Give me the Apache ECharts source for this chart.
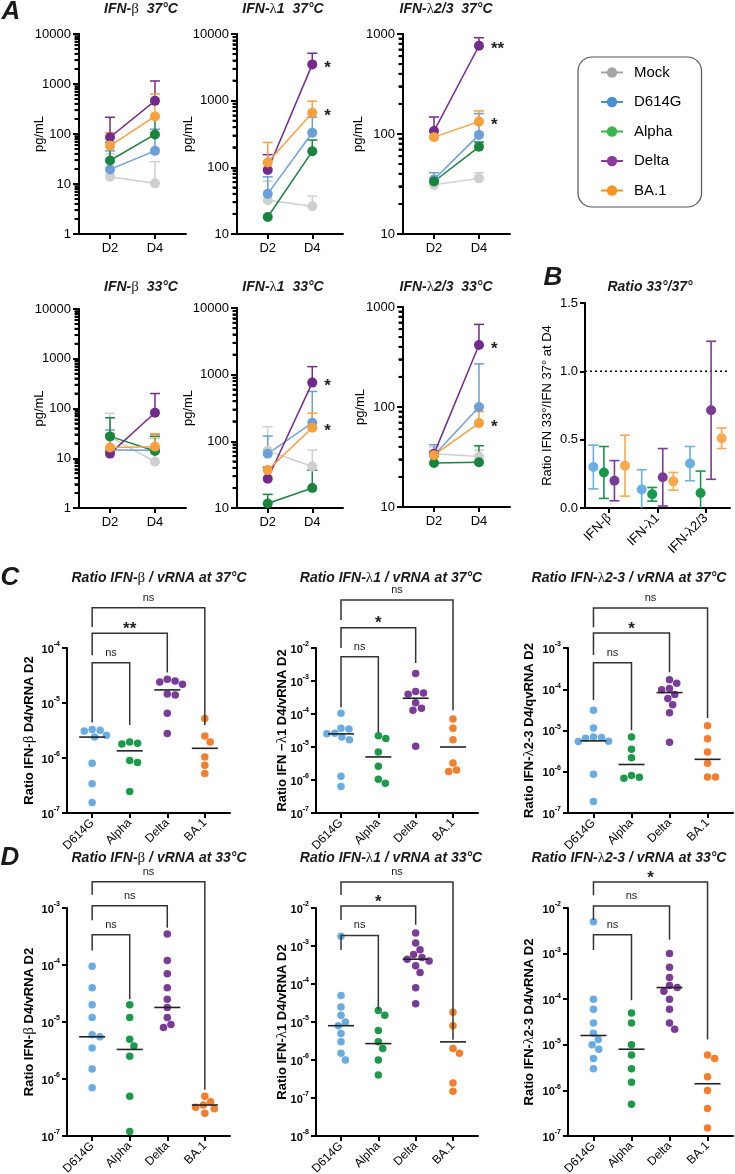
<!DOCTYPE html>
<html>
<head>
<meta charset="utf-8">
<title>IFN / vRNA figure</title>
<script src="https://cdn.jsdelivr.net/npm/echarts@6/dist/echarts.min.js"></script>
<style>html,body{margin:0;padding:0;background:#fff}#chart{width:735px;height:1174px}</style>
</head>
<body>
<div id="chart"></div>
<script>
var SANS = 'Liberation Sans, Arial, Helvetica, sans-serif';
var SERIF = 'Liberation Serif, DejaVu Serif, serif';

var variants = ['Mock', 'D614G', 'Alpha', 'Delta', 'BA.1'];
var days = ['D2', 'D4'];
var groups = ['D614G', 'Alpha', 'Delta', 'BA.1'];
var ratioCats = ['IFN-β', 'IFN-λ1', 'IFN-λ2/3'];

// Panel A: mean pg/mL [D2, D4] and top of error bar, order Mock, D614G, Alpha, Delta, BA.1
var beta37Mean = [[14, 10.3], [19.6, 46], [29.5, 98], [86, 460], [58, 225]];
var beta37Upper = [[40, 28], [46, 125], [68, 225], [216, 1150], [106, 630]];
var l1_37Mean = [[32, 26], [40, 330], [18, 174], [91, 3500], [118, 660]];
var l1_37Upper = [[62, 37], [72, 565], [18, 257], [155, 5150], [236, 980]];
var l23_37Mean = [[31, 36], [35, 98], [33.5, 74.5], [107, 763], [93, 133]];
var l23_37Upper = [[35, 41], [41, 160], [33.5, 83], [148, 918], [93, 170]];
var beta33Mean = [[27, 8.5], [14.7, 14.5], [27.5, 14], [12.4, 82], [16.4, 17]];
var beta33Upper = [[80, 25], [37, 30], [65, 27.5], [30, 200], [30, 31]];
var l1_33Mean = [[72, 42], [65, 190], [11.7, 20], [27.5, 760], [37, 160]];
var l1_33Upper = [[165, 74], [120, 560], [16, 37], [41, 1320], [41, 265]];
var l23_33Mean = [[34, 32], [33, 100], [27.5, 28], [34, 417], [33, 69]];
var l23_33Upper = [[40, 37], [42, 270], [27.5, 41], [36, 670], [36, 90]];
// significance at D4, order Mock..BA.1
var l1_37Sig = ['', '', '', '*', '*'];
var l23_37Sig = ['', '', '', '**', '*'];
var l1_33Sig = ['', '', '', '*', '*'];
var l23_33Sig = ['', '', '', '*', '*'];

// Panel B: ratio 33/37 at D4, order D614G, Alpha, Delta, BA.1; per ratioCats
var ratioMean = [[0.30, 0.135, 0.325], [0.26, 0.10, 0.11], [0.20, 0.225, 0.715], [0.31, 0.195, 0.51]];
var ratioSD = [[0.16, 0.145, 0.125], [0.19, 0.05, 0.16], [0.147, 0.21, 0.505], [0.223, 0.065, 0.075]];

// Panel C (37°C) and D (33°C): ratio IFN D4 / vRNA D2, order D614G, Alpha, Delta, BA.1
var c37Beta = [
  [3.2e-6, 3.3e-6, 3.1e-6, 2.4e-6, 2.6e-6, 8e-7, 3.4e-7, 1.55e-7],
  [1.95e-6, 1.8e-6, 1.85e-6, 9e-7, 8.3e-7, 2.45e-7],
  [2.7e-5, 2.5e-5, 2.4e-5, 2.2e-5, 1.45e-5, 1.4e-5, 6.5e-6, 2.8e-6],
  [5.2e-6, 2.5e-6, 1.95e-6, 1.04e-6, 7.4e-7, 5.2e-7]
];
var c37BetaMed = [2.4e-6, 1.35e-6, 1.73e-5, 1.5e-6];
var c37L1 = [
  [1.05e-4, 3.7e-5, 3.5e-5, 2.6e-5, 2.5e-5, 2.0e-5, 1.66e-5, 1.3e-6, 6.3e-7],
  [2.2e-5, 1.8e-5, 7e-6, 2.6e-6, 1.05e-6, 8e-7],
  [1.7e-3, 4.8e-4, 4.3e-4, 4.0e-4, 2.2e-4, 1.5e-4, 1.3e-4, 1.05e-5],
  [7e-5, 3.7e-5, 1.66e-5, 3.3e-6, 2e-6, 1.8e-6]
];
var c37L1Med = [2.5e-5, 5e-6, 3e-4, 1e-5];
var c37L23 = [
  [3.1e-5, 1.15e-5, 7e-6, 6.8e-6, 6.5e-6, 5.5e-6, 5.4e-6, 8.7e-7, 1.9e-7],
  [7e-6, 3.5e-6, 2.2e-6, 8.1e-7, 7.4e-7, 7e-7],
  [1.7e-4, 1.4e-4, 1.05e-4, 9.7e-5, 7.5e-5, 6e-5, 4.2e-5, 2.7e-5, 5.2e-6],
  [1.3e-5, 6.3e-6, 3e-6, 1.6e-6, 7.5e-7, 7.5e-7]
];
var c37L23Med = [5.6e-6, 1.5e-6, 8.3e-5, 2e-6];
var d33Beta = [
  [9.5e-5, 4e-5, 2e-5, 1.2e-5, 6e-6, 5.5e-6, 3.5e-6, 1.5e-6, 7e-7],
  [2e-5, 1.2e-5, 5e-6, 3.8e-6, 2.5e-6, 5e-7, 1.2e-7],
  [3.5e-4, 1.2e-4, 7e-5, 4e-5, 2.5e-5, 1.8e-5, 1.2e-5, 9e-6, 8e-6],
  [5e-7, 4e-7, 3.5e-7, 3.2e-7, 3e-7, 2.5e-7]
];
var d33BetaMed = [5.5e-6, 3.3e-6, 1.8e-5, 3.5e-7];
var d33L1 = [
  [1.8e-3, 5e-5, 2.5e-5, 1.5e-5, 1e-5, 8e-6, 5e-6, 3e-6, 1.5e-6, 1e-6],
  [2e-5, 1.5e-5, 6e-6, 3e-6, 2e-6, 1e-6, 4e-7],
  [2.2e-3, 1.2e-3, 8e-4, 6e-4, 5e-4, 4.5e-4, 4e-4, 3e-4, 2e-4, 8e-5, 3e-5],
  [1.8e-5, 8e-6, 2e-6, 1.5e-6, 2.5e-7, 1.5e-7]
];
var d33L1Med = [8e-6, 2.7e-6, 4.5e-4, 3e-6];
var d33L23 = [
  [5e-3, 1e-4, 6e-5, 3e-5, 1.8e-5, 1.3e-5, 1e-5, 8e-6, 5e-6, 3e-6],
  [5e-5, 3e-5, 1e-5, 6e-6, 3e-6, 1.5e-6, 5e-7],
  [1e-3, 5e-4, 3e-4, 2e-4, 1.8e-4, 1.5e-4, 1e-4, 6e-5, 3e-5, 2.2e-5],
  [6e-6, 5e-6, 2e-6, 1e-6, 4e-7, 1.5e-7]
];
var d33L23Med = [1.6e-5, 8e-6, 1.8e-4, 1.4e-6];

// comparison brackets: [from, to, bar level, left leg end, right leg end]
var c37BetaBr = [[0, 3, 5.4e-4, 2.4e-4, 4e-6], [0, 2, 1.86e-4, 7.4e-5, 3.6e-5], [0, 1, 5.4e-5, 4.4e-6, 4e-6]];
var c37BetaBrLab = ['ns', '**', 'ns'];
var c37L1Br = [[0, 3, 0.285, 0.071, 1.3e-4], [0, 2, 0.041, 1e-2, 3.5e-3], [0, 1, 5.4e-3, 1.6e-4, 2.8e-5]];
var c37L1BrLab = ['ns', '*', 'ns'];
var c37L23Br = [[0, 3, 9.3e-3, 3.2e-3, 2e-5], [0, 2, 2.3e-3, 6.8e-4, 2.6e-4], [0, 1, 4.4e-4, 5.5e-5, 1.02e-5]];
var c37L23BrLab = ['ns', '*', 'ns'];
var d33BetaBr = [[0, 3, 2.9e-3, 1.7e-3, 6.5e-7], [0, 2, 1.1e-3, 6.1e-4, 4.5e-4], [0, 1, 3.4e-4, 1.8e-4, 2.5e-5]];
var d33BetaBrLab = ['ns', 'ns', 'ns'];
var d33L1Br = [[0, 3, 0.048, 0.022, 3.4e-6], [0, 2, 0.0113, 4.8e-3, 3.6e-3], [0, 1, 1.9e-3, 7.8e-4, 2.1e-5]];
var d33L1BrLab = ['ns', '*', 'ns'];
var d33L23Br = [[0, 3, 0.037, 0.019, 1.3e-5], [0, 2, 0.011, 5.5e-3, 2e-3], [0, 1, 2.6e-3, 1.2e-3, 9.5e-5]];
var d33L23BrLab = ['*', 'ns', 'ns'];

var colA = ['#cfcfcf', '#6b9fd9', '#18843d', '#74298c', '#f9a03e'];
var colLegend = ['#a5a5a5', '#4a8fd2', '#3cb54a', '#8a3b9c', '#f7941e'];
var colB = ['#6aaee6', '#19974a', '#7a3b97', '#f9a94d'];
var colC = ['#69ace3', '#1c9a4a', '#7b3b98', '#f47e2b'];

var grids = [], xAxes = [], yAxes = [], series = [], graphics = [];

function gk(s) { return s.replace(/([βλ])/g, '{g|$1}'); }
function decades(min, max) {
  var a = [];
  for (var e = Math.round(Math.log10(min)); e <= Math.round(Math.log10(max)); e++) a.push(Math.pow(10, e));
  return a;
}
function minors(min, max) {
  var a = [];
  for (var e = Math.round(Math.log10(min)); e < Math.round(Math.log10(max)); e++)
    for (var k = 2; k <= 9; k++) a.push(k * Math.pow(10, e));
  return a;
}
var lineSt = { color: '#000', width: 2 };

function addGrid(r) {
  grids.push({ left: r[0], top: r[1], width: r[2], height: r[3], containLabel: false, outerBoundsMode: 'none' });
  return grids.length - 1;
}

function errBar(color) {
  return function (params, api) {
    var x = api.value(0), m = api.value(1), u = api.value(2);
    if (!(u > m * 1.02)) return null;
    var a = api.coord([x, m]), b = api.coord([x, u]);
    return { type: 'group', children: [
      { type: 'line', shape: { x1: a[0], y1: a[1], x2: b[0], y2: b[1] }, style: { stroke: color, lineWidth: 1.5 } },
      { type: 'line', shape: { x1: b[0] - 5, y1: b[1], x2: b[0] + 5, y2: b[1] }, style: { stroke: color, lineWidth: 1.5 } }
    ] };
  };
}

function buildA(rect, min, max, mean, upper, sig, nameGap) {
  var g = addGrid(rect);
  var xi = xAxes.length;
  var xMin = 0.31;
  xAxes.push({
    type: 'value', gridIndex: g, min: xMin, max: 2.69,
    axisLine: { show: true, onZero: false, lineStyle: lineSt },
    axisTick: { show: true, length: 5, lineStyle: lineSt, customValues: [1, 2] },
    axisLabel: { customValues: [1, 2], color: '#000', fontSize: 13, margin: 8,
      formatter: function (v) { return days[Math.round(v) - 1]; } },
    splitLine: { show: false }
  });
  var yi = yAxes.length;
  var majors = decades(min, max);
  var mv = minors(min, max);
  yAxes.push({
    type: 'log', logBase: 10, gridIndex: g, position: 'left', min: min, max: max,
    name: 'pg/mL', nameLocation: 'middle', nameGap: nameGap, nameMoveOverlap: false,
    nameTextStyle: { fontSize: 13, color: '#000', fontFamily: SANS },
    axisLine: { show: true, onZero: false, lineStyle: lineSt },
    axisTick: { show: true, length: 6, lineStyle: lineSt, customValues: majors },
    axisLabel: { customValues: majors, color: '#000', fontSize: 13, margin: 8,
      formatter: function (v) { return String(Math.round(v)); } },
    splitLine: { show: false }
  });
  // second log axis on the same side, carrying only the 2..9 minor ticks
  yAxes.push({
    type: 'log', logBase: 10, gridIndex: g, position: 'left', offset: 0, min: min, max: max,
    axisLine: { show: true, onZero: false, lineStyle: lineSt },
    axisTick: { show: true, length: 4, lineStyle: { color: '#000', width: 1.8 }, customValues: mv },
    axisLabel: { show: true, customValues: mv, formatter: function () { return ''; } },
    splitLine: { show: false }
  });
  // the same minor ticks drawn through the y scale as a fallback
  series.push({
    type: 'custom', name: 'minor ticks', xAxisIndex: xi, yAxisIndex: yi, silent: true, clip: false, z: 10,
    encode: { x: 0, y: 1 },
    data: mv.map(function (v) { return [1.5, v]; }),
    renderItem: function (params, api) {
      var p = api.coord([1.5, api.value(1)]);
      var x0 = api.coord([xMin, api.value(1)])[0];
      return { type: 'rect', shape: { x: x0 - 4.5, y: p[1] - 1, width: 4.5, height: 2 },
        style: { fill: '#000' } };
    }
  });
  variants.forEach(function (v, i) {
    series.push({
      type: 'custom', name: v + ' err', xAxisIndex: xi, yAxisIndex: yi, z: 1, silent: true,
      renderItem: errBar(colA[i]), encode: { x: 0, y: [1, 2] },
      data: [[1, mean[i][0], upper[i][0]], [2, mean[i][1], upper[i][1]]]
    });
    var d4 = { value: [2, mean[i][1]] };
    if (sig && sig[i]) {
      d4.label = { show: true, position: 'right', distance: 7, formatter: sig[i], fontSize: 17,
        fontWeight: 'bold', color: '#222', offset: [0, 4] };
    }
    series.push({
      type: 'line', name: v, xAxisIndex: xi, yAxisIndex: yi, z: 2,
      symbol: 'circle', symbolSize: 10, showSymbol: true, clip: false,
      lineStyle: { width: 1.5, color: colA[i] }, itemStyle: { color: colA[i] },
      emphasis: { disabled: true }, label: { show: false },
      data: [{ value: [1, mean[i][0]] }, d4]
    });
  });
}

function buildB(rect) {
  var g = addGrid(rect);
  var xi = xAxes.length;
  xAxes.push({
    type: 'category', gridIndex: g, data: ratioCats, boundaryGap: true,
    axisLine: { show: true, onZero: false, lineStyle: lineSt },
    axisTick: { show: true, alignWithLabel: true, length: 5, lineStyle: lineSt },
    axisLabel: { rotate: 45, color: '#000', fontSize: 13, margin: 8, formatter: gk,
      rich: { g: { fontFamily: SERIF, fontSize: 14, color: '#000' } } },
    splitLine: { show: false }
  });
  var yi = yAxes.length;
  yAxes.push({
    type: 'value', gridIndex: g, min: 0, max: 1.5, interval: 0.5,
    name: 'Ratio IFN 33°/IFN 37° at D4', nameLocation: 'middle', nameGap: 31, nameMoveOverlap: false,
    nameTextStyle: { fontSize: 13, color: '#000', fontFamily: SANS },
    axisLine: { show: true, onZero: false, lineStyle: lineSt },
    axisTick: { show: true, length: 5, lineStyle: lineSt },
    axisLabel: { color: '#000', fontSize: 13, margin: 7, formatter: function (v) { return v.toFixed(1); } },
    splitLine: { show: false }
  });
  series.push({
    type: 'custom', name: 'ref', xAxisIndex: xi, yAxisIndex: yi, silent: true, z: 1,
    data: [[0, 1]], encode: { x: 0, y: 1 },
    renderItem: function (params, api) {
      var cs = params.coordSys, y = api.coord([0, api.value(1)])[1];
      return { type: 'line', shape: { x1: cs.x, y1: y, x2: cs.x + cs.width, y2: y },
        style: { stroke: '#000', lineWidth: 1.5, lineDash: [2, 3] } };
    }
  });
  groups.forEach(function (name, k) {
    series.push({
      type: 'custom', name: name + ' ratio', xAxisIndex: xi, yAxisIndex: yi, clip: true, silent: true, z: 2,
      encode: { x: 0, y: 1 },
      data: ratioCats.map(function (c, j) { return [j, ratioMean[k][j], ratioSD[k][j]]; }),
      renderItem: function (params, api) {
        var j = api.value(0), m = api.value(1), s = api.value(2);
        var bw = api.size([1, 0])[0];
        var off = (k - 1.5) * bw * 0.218;
        var pm = api.coord([j, m]), ph = api.coord([j, m + s]), pl = api.coord([j, m - s]);
        var x = pm[0] + off, st = { stroke: colB[k], lineWidth: 1.6 };
        return { type: 'group', children: [
          { type: 'line', shape: { x1: x, y1: pl[1], x2: x, y2: ph[1] }, style: st },
          { type: 'line', shape: { x1: x - 5, y1: ph[1], x2: x + 5, y2: ph[1] }, style: st },
          { type: 'line', shape: { x1: x - 5, y1: pl[1], x2: x + 5, y2: pl[1] }, style: st },
          { type: 'circle', shape: { cx: x, cy: pm[1], r: 5 }, style: { fill: colB[k] } }
        ] };
      }
    });
  });
}

// simple beeswarm: horizontal offsets (in category units) so markers do not overlap
function swarm(vals, pxCat, pxDec, d) {
  var order = vals.map(function (v, i) { return i; }).sort(function (a, b) { return vals[b] - vals[a]; });
  var placed = [], off = [];
  order.forEach(function (i) {
    var y = Math.log10(vals[i]) * pxDec;
    var near = placed.filter(function (p) { return Math.abs(p.y - y) < d; });
    var cands = [0];
    near.forEach(function (p) {
      var dx = Math.sqrt(d * d - (p.y - y) * (p.y - y));
      cands.push(p.x + dx + 0.01, p.x - dx - 0.01);
    });
    cands.sort(function (a, b) { return Math.abs(a) - Math.abs(b) || b - a; });
    var x = cands.find(function (c) {
      return near.every(function (p) { return (p.x - c) * (p.x - c) + (p.y - y) * (p.y - y) >= d * d - 0.05; });
    });
    placed.push({ x: x, y: y });
    off[i] = x / pxCat;
  });
  return off;
}

function buildC(rect, min, max, vals, med, br, brLab, yName, nameGap) {
  var g = addGrid(rect);
  var xMin = -0.67, xMax = 3.67;
  var pxCat = rect[2] / (xMax - xMin);
  var pxDec = rect[3] / (Math.log10(max) - Math.log10(min));
  var xi = xAxes.length;
  xAxes.push({
    type: 'value', gridIndex: g, min: xMin, max: xMax,
    axisLine: { show: true, onZero: false, lineStyle: lineSt },
    axisTick: { show: true, length: 5, lineStyle: lineSt, customValues: [0, 1, 2, 3] },
    axisLabel: { customValues: [0, 1, 2, 3], rotate: 45, color: '#000', fontSize: 12, margin: 8,
      formatter: function (v) { return groups[Math.round(v)]; } },
    splitLine: { show: false }
  });
  var yi = yAxes.length;
  var majors = decades(min, max);
  yAxes.push({
    type: 'log', logBase: 10, gridIndex: g, position: 'left', min: min, max: max,
    name: gk(yName), nameLocation: 'middle', nameGap: nameGap, nameMoveOverlap: false,
    nameTextStyle: { fontSize: 13, fontWeight: 'bold', color: '#000', fontFamily: SANS,
      rich: { g: { fontFamily: SERIF, fontSize: 15, fontWeight: 'normal', color: '#000' } } },
    axisLine: { show: true, onZero: false, lineStyle: lineSt },
    axisTick: { show: true, length: 5, lineStyle: lineSt, customValues: majors },
    axisLabel: { customValues: majors, color: '#000', margin: 7,
      formatter: function (v) { return '{b|10}{s|' + Math.round(Math.log10(v)) + '}'; },
      rich: {
        b: { fontSize: 11, fontWeight: 'bold', color: '#000', lineHeight: 14, verticalAlign: 'bottom' },
        s: { fontSize: 7, fontWeight: 'bold', color: '#000', lineHeight: 8, verticalAlign: 'top' }
      } },
    splitLine: { show: false }
  });
  groups.forEach(function (name, k) {
    var off = swarm(vals[k], pxCat, pxDec, 8);
    series.push({
      type: 'scatter', name: name, xAxisIndex: xi, yAxisIndex: yi, symbolSize: 7.5, z: 2,
      itemStyle: { color: colC[k], opacity: 1 }, emphasis: { disabled: true }, silent: true,
      data: vals[k].map(function (v, i) { return [k + off[i], v]; })
    });
  });
  series.push({
    type: 'custom', name: 'median', xAxisIndex: xi, yAxisIndex: yi, z: 3, silent: true,
    encode: { x: 0, y: 1 },
    data: med.map(function (m, k) { return [k, m]; }),
    renderItem: function (params, api) {
      var p = api.coord([api.value(0), api.value(1)]);
      return { type: 'line', shape: { x1: p[0] - 13, y1: p[1], x2: p[0] + 13, y2: p[1] },
        style: { stroke: '#222', lineWidth: 1.6 } };
    }
  });
  series.push({
    type: 'custom', name: 'brackets', xAxisIndex: xi, yAxisIndex: yi, z: 3, silent: true, clip: false,
    encode: { x: [0, 1], y: [2, 3, 4] },
    data: br,
    renderItem: function (params, api) {
      var b = br[params.dataIndex], lab = brLab[params.dataIndex];
      var l1 = api.coord([b[0], b[3]]), l0 = api.coord([b[0], b[2]]);
      var r0 = api.coord([b[1], b[2]]), r1 = api.coord([b[1], b[4]]);
      var star = lab !== 'ns';
      return { type: 'group', children: [
        { type: 'polyline', shape: { points: [[l1[0], l1[1]], [l0[0], l0[1]], [r0[0], r0[1]], [r1[0], r1[1]]] },
          style: { stroke: '#333', lineWidth: 1.5, fill: null } },
        { type: 'text', x: (l0[0] + r0[0]) / 2, y: l0[1] - (star ? 4 : 10),
          style: { text: lab, fontFamily: SANS, fontSize: star ? 17 : 11, fontWeight: star ? 'bold' : 'normal',
            fill: '#222', align: 'center', verticalAlign: 'middle' } }
      ] };
    }
  });
}

function label(text, x, y, size) {
  graphics.push({
    type: 'text', x: x, y: y, silent: true,
    style: { text: gk(text), fontFamily: SANS, fontSize: size, fontWeight: 'bold', fontStyle: 'italic',
      fill: '#1a1a1a', align: 'center', verticalAlign: 'middle', textAlign: 'center', textVerticalAlign: 'middle',
      rich: { g: { fontFamily: SERIF, fontSize: size + 1, fontWeight: 'normal', fontStyle: 'normal', fill: '#1a1a1a' } } }
  });
}

// Panel A
buildA([79, 34, 107, 200], 1, 10000, beta37Mean, beta37Upper, null, 33);
buildA([237, 34, 106, 200], 10, 10000, l1_37Mean, l1_37Upper, l1_37Sig, 42);
buildA([403, 34, 107, 200], 10, 1000, l23_37Mean, l23_37Upper, l23_37Sig, 38);
buildA([79, 309, 107, 199], 1, 10000, beta33Mean, beta33Upper, null, 33);
buildA([237, 308, 106, 200], 10, 10000, l1_33Mean, l1_33Upper, l1_33Sig, 42);
buildA([403, 307, 107, 200], 10, 1000, l23_33Mean, l23_33Upper, l23_33Sig, 36);
// Panel B
buildB([585, 303, 145, 205]);
// Panel C
buildC([67, 648, 163, 165], 1e-7, 1e-4, c37Beta, c37BetaMed, c37BetaBr, c37BetaBrLab, 'Ratio IFN-β D4/vRNA D2', 30);
buildC([316, 648, 162, 165], 1e-7, 1e-2, c37L1, c37L1Med, c37L1Br, c37L1BrLab, 'Ratio IFN −λ1 D4/vRNA D2', 26);
buildC([568, 648, 165, 165], 1e-7, 1e-3, c37L23, c37L23Med, c37L23Br, c37L23BrLab, 'Ratio IFN-λ2-3 D4/qvRNA D2', 31);
// Panel D
buildC([67, 908, 163, 228], 1e-7, 1e-3, d33Beta, d33BetaMed, d33BetaBr, d33BetaBrLab, 'Ratio IFN-β D4/vRNA D2', 30);
buildC([316, 908, 162, 228], 1e-8, 1e-2, d33L1, d33L1Med, d33L1Br, d33L1BrLab, 'Ratio IFN-λ1 D4/vRNA D2', 26);
buildC([568, 908, 165, 228], 1e-7, 1e-2, d33L23, d33L23Med, d33L23Br, d33L23BrLab, 'Ratio IFN-λ2-3 D4/vRNA D2', 31);

// titles and panel letters
label('A', 11, 12, 26); label('B', 553, 278, 26); label('C', 10, 578, 26); label('D', 10, 858, 26);
label('IFN-β  37°C', 141, 9, 14); label('IFN-λ1  37°C', 283, 9, 14); label('IFN-λ2/3  37°C', 446, 9, 14);
label('IFN-β  33°C', 141, 287, 14); label('IFN-λ1  33°C', 283, 287, 14); label('IFN-λ2/3  33°C', 446, 287, 14);
label('Ratio 33°/37°', 650, 287, 14);
label('Ratio IFN-β / vRNA at 37°C', 159, 578, 14); label('Ratio IFN-λ1 / vRNA at 37°C', 391, 578, 14);
label('Ratio IFN-λ2-3 / vRNA at 37°C', 629, 578, 14);
label('Ratio IFN-β / vRNA at 33°C', 159, 858, 14); label('Ratio IFN-λ1 / vRNA at 33°C', 391, 858, 14);
label('Ratio IFN-λ2-3 / vRNA at 33°C', 629, 858, 14);

var chart = echarts.init(document.getElementById('chart'), null, { renderer: 'canvas' });
chart.setOption({
  animation: false,
  backgroundColor: '#fff',
  textStyle: { fontFamily: SANS },
  legend: {
    show: true, orient: 'vertical', left: 578, top: 57, selectedMode: false,
    itemWidth: 22, itemHeight: 13, itemGap: 14.5, padding: [8, 20, 9, 22],
    borderColor: '#555', borderWidth: 1.2, borderRadius: 14,
    textStyle: { fontSize: 15, color: '#000', fontFamily: SANS, padding: [0, 0, 0, 6] },
    data: variants.map(function (v, i) {
      return { name: v, itemStyle: { color: colLegend[i] }, lineStyle: { color: colLegend[i], width: 2 } };
    })
  },
  grid: grids,
  xAxis: xAxes,
  yAxis: yAxes,
  series: series,
  graphic: graphics
});
</script>
</body>
</html>
